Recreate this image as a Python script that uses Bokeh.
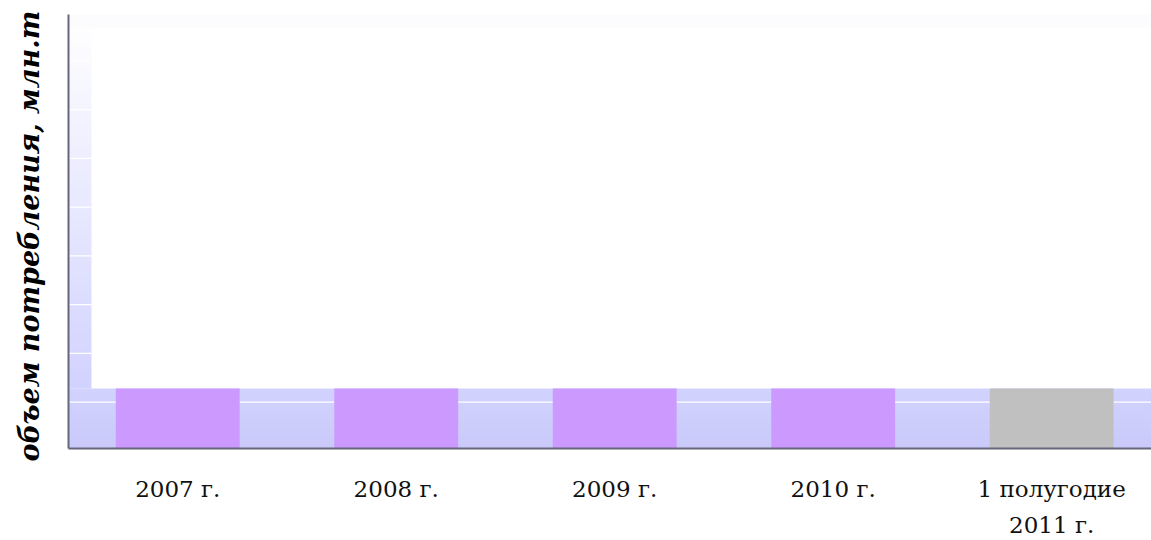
import numpy as np
from bokeh.plotting import figure
from bokeh.models import Range1d, FixedTicker
from bokeh.embed import file_html
from bokeh.resources import INLINE

# ---- data ----
categories = ["2007 г.", "2008 г.", "2009 г.", "2010 г.", "1 полугодие\n2011 г."]
values = [1.28, 1.28, 1.28, 1.28, 1.28]
bar_colors = ["#CC99FF", "#CC99FF", "#CC99FF", "#CC99FF", "#C0C0C0"]
grid_values = [1, 2, 3, 4, 5, 6, 7, 8]
y_title = "объем потребления, млн.т"

# ---- layout / styling ----
y_start, y_end = 0.05, 8.95
x_end = 4.957
wall_top = 8.68
wall_right = 0.105
floor_top = 1.28
bar_width = 0.567
xs = [i + 0.5 for i in range(len(categories))]

p = figure(width=1151, height=540, output_backend="svg", toolbar_location=None,
           x_range=Range1d(0, x_end), y_range=Range1d(y_start, y_end),
           min_border_left=68, min_border_right=0, min_border_top=14, min_border_bottom=92)
p.background_fill_color = "white"
p.border_fill_color = "white"
p.outline_line_color = None
p.xgrid.grid_line_color = None
p.ygrid.grid_line_color = None

def grad_img(n, c_bottom, c_top):
    img = np.empty((n, 1), dtype=np.uint32)
    view = img.view(dtype=np.uint8).reshape((n, 1, 4))
    for i in range(n):
        t = i / (n - 1)
        for k in range(3):
            view[i, 0, k] = int(round(c_bottom[k] + (c_top[k] - c_bottom[k]) * t))
        view[i, 0, 3] = 255
    return img

# faint back-wall top band
p.quad(left=0, right=x_end, bottom=wall_top, top=y_end, fill_color="#FCFCFE", line_color=None)
# floor
p.image_rgba(image=[grad_img(40, (202, 202, 250), (210, 210, 255))],
             x=0, y=y_start, dw=x_end, dh=floor_top - y_start)
# side wall
p.image_rgba(image=[grad_img(120, (210, 210, 255), (254, 254, 255))],
             x=0, y=floor_top, dw=wall_right, dh=wall_top - floor_top)

# grid lines (white) on wall and floor
gx0, gx1, gy = [], [], []
for g in grid_values:
    if g < wall_top:
        gx0.append(0)
        gx1.append(x_end if g < floor_top else wall_right)
        gy.append(g)
p.segment(x0=gx0, y0=gy, x1=gx1, y1=gy, line_color="white", line_width=1.2)

# bars
p.vbar(x=xs, width=bar_width, bottom=y_start, top=values, fill_color=bar_colors, line_color=None)

# axes
axis_col = "#66667A"
p.xaxis.ticker = FixedTicker(ticks=xs)
p.xaxis.major_label_overrides = {x: c for x, c in zip(xs, categories)}
p.xaxis.major_tick_line_color = None
p.xaxis.minor_tick_line_color = None
p.xaxis.axis_line_color = axis_col
p.xaxis.axis_line_width = 2
p.xaxis.major_label_text_font = "DejaVu Serif"
p.xaxis.major_label_text_font_size = "23px"
p.xaxis.major_label_text_color = "#111111"
p.xaxis.major_label_standoff = 21
p.xaxis.major_label_text_line_height = 1.39

p.yaxis.ticker = FixedTicker(ticks=[])
p.yaxis.major_tick_line_color = None
p.yaxis.minor_tick_line_color = None
p.yaxis.major_label_text_font_size = "0px"
p.yaxis.axis_line_color = axis_col
p.yaxis.axis_line_width = 2
p.yaxis.axis_label = y_title + "\u00a0"
p.yaxis.axis_label_text_font = "DejaVu Serif"
p.yaxis.axis_label_text_font_style = "bold italic"
p.yaxis.axis_label_text_font_size = "27px"
p.yaxis.axis_label_text_color = "black"
p.yaxis.axis_label_standoff = 24

open("out.html", "w").write(file_html(p, INLINE))
